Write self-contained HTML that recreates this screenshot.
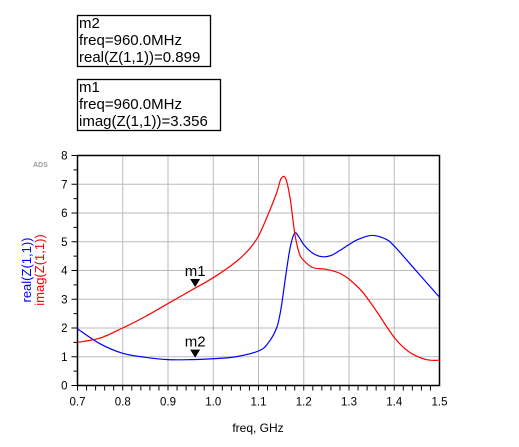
<!DOCTYPE html>
<html><head><meta charset="utf-8"><style>
html,body{margin:0;padding:0;background:#fff;}
svg text{font-family:"Liberation Sans",Arial,sans-serif;}
</style></head><body>
<svg id="chart" width="519" height="442" xmlns="http://www.w3.org/2000/svg">
<g>
<rect x="77.5" y="15.5" width="133" height="51" fill="#fff" stroke="#000" stroke-width="1.3"/>
<text x="79" y="28" font-size="15">m2</text>
<text x="79" y="45" font-size="15">freq=960.0MHz</text>
<text x="79" y="62" font-size="15">real(Z(1,1))=0.899</text>
</g>
<g>
<rect x="77.5" y="79.5" width="143" height="51" fill="#fff" stroke="#000" stroke-width="1.3"/>
<text x="79" y="92" font-size="15">m1</text>
<text x="79" y="109" font-size="15">freq=960.0MHz</text>
<text x="79" y="126" font-size="15">imag(Z(1,1))=3.356</text>
</g>
<text x="33" y="167" font-size="7" fill="#999" font-weight="bold">ADS</text>
<g id="grid"></g>
<g id="axes"></g>
<g id="series"></g>
<g id="markers"></g>
<text x="258" y="432" font-size="12" text-anchor="middle">freq, GHz</text>
<g transform="translate(31,270) rotate(-90)">
<text x="0" y="0" font-size="13" fill="#00f" text-anchor="middle">real(Z(1,1))</text>
<text x="0" y="13" font-size="13" fill="#f00" text-anchor="middle">imag(Z(1,1))</text>
</g>
</svg>
<script>
const xTicks=[0.7,0.8,0.9,1.0,1.1,1.2,1.3,1.4,1.5];
const xTickLabels=["0.7","0.8","0.9","1.0","1.1","1.2","1.3","1.4","1.5"];
const yTicks=[0,1,2,3,4,5,6,7,8];
const realFreq=[0.7,0.75,0.8,0.85,0.9,0.95,1.0,1.05,1.1,1.12,1.14,1.15,1.16,1.17,1.18,1.19,1.2,1.22,1.24,1.26,1.28,1.3,1.32,1.35,1.38,1.4,1.45,1.5];
const realVals=[1.97,1.45,1.12,0.98,0.9,0.9,0.93,1.0,1.2,1.45,2.0,2.7,3.8,4.8,5.3,5.15,4.9,4.6,4.48,4.52,4.7,4.9,5.08,5.22,5.1,4.85,3.96,3.07];
const imagFreq=[0.7,0.75,0.8,0.85,0.9,0.95,1.0,1.05,1.08,1.1,1.12,1.14,1.15,1.16,1.17,1.18,1.19,1.2,1.22,1.25,1.28,1.3,1.33,1.36,1.4,1.43,1.46,1.48,1.5];
const imagVals=[1.5,1.65,2.0,2.4,2.85,3.3,3.75,4.3,4.75,5.2,5.9,6.7,7.2,7.2,6.5,5.3,4.6,4.35,4.1,4.04,3.9,3.7,3.25,2.6,1.67,1.2,0.95,0.88,0.88];
const markerFreq=[0.96,0.96];
const markerVals=[3.356,0.899];
const markerNames=["m1","m2"];

const L=77.5,R=439.5,T=155.5,B=385.5;
const sx=v=>L+(v-0.7)/0.8*(R-L);
const sy=v=>B-v/8*(B-T);
const NS="http://www.w3.org/2000/svg";
function mk(tag,parent,attrs){const e=document.createElementNS(NS,tag);for(const k in attrs)e.setAttribute(k,attrs[k]);document.getElementById(parent).appendChild(e);return e;}

xTicks.forEach((t,i)=>{
 const x=sx(t);
 if(i>0&&i<xTicks.length-1){const g=mk('line','grid',{x1:x,x2:x,y1:T,y2:B,stroke:'#bbb','stroke-width':1});
 
 }
 const tx=mk('text','axes',{x:x,y:B+20,'font-size':11.5,'text-anchor':'middle'});
 tx.textContent=xTickLabels[i];
 
 
});
for(let v=0.7;v<1.5-1e-9;v+=0.02){
 const x=sx(v);
 mk('line','axes',{x1:x,x2:x,y1:B,y2:B+5,stroke:'#000','stroke-width':1});
}
yTicks.forEach(t=>{
 const y=sy(t);
 if(t>0&&t<8){const g=mk('line','grid',{x1:L,x2:R,y1:y,y2:y,stroke:'#bbb','stroke-width':1});
 
 }
 mk('line','axes',{x1:L-6,x2:L,y1:y,y2:y,stroke:'#000','stroke-width':1});
 if(t<8)mk('line','axes',{x1:L-4,x2:L,y1:sy(t+0.5),y2:sy(t+0.5),stroke:'#000','stroke-width':1});
 const tx=mk('text','axes',{x:L-10,y:y+4,'font-size':11.5,'text-anchor':'end'});
 tx.textContent=String(t);
 
 
});
const frame=mk('rect','axes',{x:L,y:T,width:R-L,height:B-T,fill:'none',stroke:'#000','stroke-width':1.5});



function smooth(xs,ys){
 const p=xs.map((x,i)=>[sx(x),sy(ys[i])]);
 let d=`M${p[0][0]},${p[0][1]}`;
 for(let i=0;i<p.length-1;i++){
  const p0=p[Math.max(i-1,0)],p1=p[i],p2=p[i+1],p3=p[Math.min(i+2,p.length-1)];
  const c1=[p1[0]+(p2[0]-p0[0])/6,p1[1]+(p2[1]-p0[1])/6];
  const c2=[p2[0]-(p3[0]-p1[0])/6,p2[1]-(p3[1]-p1[1])/6];
  d+=`C${c1[0]},${c1[1]} ${c2[0]},${c2[1]} ${p2[0]},${p2[1]}`;
 }
 return d;
}
const rl=mk('path','series',{d:smooth(realFreq,realVals),fill:'none',stroke:'#00f','stroke-width':1.2});


const il=mk('path','series',{d:smooth(imagFreq,imagVals),fill:'none',stroke:'#f00','stroke-width':1.2});



markerFreq.forEach((f,i)=>{
 const x=sx(f),y=sy(markerVals[i]);
 const tri=mk('path','markers',{d:`M${x-5},${y-10}L${x+5},${y-10}L${x},${y-2}Z`,fill:'#000'});
 
 
 const t=mk('text','markers',{x:x,y:y-13,'font-size':15,'text-anchor':'middle'});
 t.textContent=markerNames[i];
 
 
});
</script>
</body></html>
